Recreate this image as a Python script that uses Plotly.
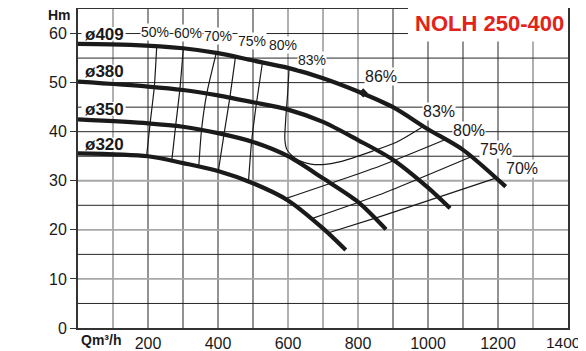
import plotly.graph_objects as go

# ---- head curves (Q m3/h, H m) ----
q409 = [0, 150, 300, 400, 500, 600, 700, 800, 900, 1000, 1100, 1222]
h409 = [57.9, 57.7, 57.0, 56.0, 54.5, 53.0, 50.9, 48.2, 45.0, 40.5, 36.3, 28.8]
q380 = [0, 200, 300, 400, 500, 600, 700, 800, 900, 1000, 1063]
h380 = [50.2, 49.2, 48.5, 47.4, 46.0, 44.5, 42.0, 38.3, 34.3, 28.6, 24.4]
q350 = [0, 200, 300, 400, 500, 600, 700, 800, 880]
h350 = [42.5, 41.7, 41.0, 39.7, 37.9, 35.0, 30.5, 25.7, 20.1]
q320 = [0, 200, 300, 400, 500, 600, 700, 765]
h320 = [35.6, 35.0, 33.6, 32.0, 29.5, 26.0, 20.3, 15.9]
diam_labels = ["ø409", "ø380", "ø350", "ø320"]
diam_label_h = [59.9, 52.2, 44.6, 37.3]

# ---- efficiency iso-lines ----
e50_q = [225, 218, 206, 196]; e50_h = [57.4, 49.1, 41.7, 35.0]
e60_q = [301, 291, 279, 268]; e60_h = [57.0, 48.6, 41.2, 34.1]
e70_q = [395, 368, 353, 345]; e70_h = [56.0, 47.8, 40.4, 32.9]
e75_q = [450, 434, 417, 401]; e75_h = [55.3, 47.0, 39.4, 32.0]
e80_q = [527, 510, 496, 487]; e80_h = [54.1, 45.9, 38.0, 29.8]
e83_q = [603, 599, 593, 591, 596, 610, 632, 665, 700, 750, 840, 911, 985]
e83_h = [52.9, 47.8, 42.0, 38.5, 36.5, 35.2, 34.1, 33.4, 33.3, 33.9, 36.0, 37.9, 41.0]
e80r_q = [591, 863, 1050]; e80r_h = [26.3, 33.0, 38.4]
e75r_q = [668, 863, 1120]; e75r_h = [22.3, 27.2, 34.8]
e70r_q = [716, 863, 1196]; e70r_h = [19.4, 22.7, 30.6]
bep_q = [815]; bep_h = [47.9]

top_labels = ["50%", "60%", "70%", "75%", "80%", "83%"]
top_q = [220, 315, 401, 496, 587, 668]
top_h = [60.4, 60.1, 59.4, 58.4, 57.7, 54.6]
right_labels = ["86%", "83%", "80%", "75%", "70%"]
right_q = [867, 1032, 1118, 1193, 1269]
right_h = [51.3, 44.1, 40.3, 36.3, 32.5]

x_ticks = [200, 400, 600, 800, 1000, 1200]
x_last_tick = 1400
y_ticks = [0, 10, 20, 30, 40, 50, 60]
grid_x = list(range(100, 1400, 100))
grid_y = list(range(5, 65, 5))
grey_x = {100, 600, 700, 800, 1300}
grey_y = {10, 20, 30}

FONT = "Liberation Sans, Arial, Helvetica, sans-serif"
INK = "#1a1a1a"

fig = go.Figure()

thin = dict(color=INK, width=1.2)
for qq, hh in [(e50_q, e50_h), (e60_q, e60_h), (e70_q, e70_h), (e75_q, e75_h), (e80_q, e80_h),
               (e80r_q, e80r_h), (e75r_q, e75r_h), (e70r_q, e70r_h)]:
    fig.add_trace(go.Scatter(x=qq, y=hh, mode="lines", line=dict(shape="spline", smoothing=0.6, **thin),
                             hoverinfo="skip"))
fig.add_trace(go.Scatter(x=e83_q, y=e83_h, mode="lines", line=dict(shape="spline", smoothing=0.8, **thin),
                         hoverinfo="skip"))

for qq, hh in [(q409, h409), (q380, h380), (q350, h350), (q320, h320)]:
    fig.add_trace(go.Scatter(x=qq, y=hh, mode="lines",
                             line=dict(color=INK, width=4.2, shape="spline", smoothing=0.8),
                             hoverinfo="skip"))
fig.add_trace(go.Scatter(x=bep_q, y=bep_h, mode="markers",
                         marker=dict(symbol="diamond", size=7, color=INK), hoverinfo="skip"))

shapes = []
for gx in grid_x:
    g = gx in grey_x
    shapes.append(dict(type="line", xref="x", yref="y", x0=gx, x1=gx, y0=0, y1=65, layer="below",
                       line=dict(color="#a8a8a8" if g else "#262626", width=1.8 if g else 1)))
for gy in grid_y:
    g = gy in grey_y
    shapes.append(dict(type="line", xref="x", yref="y", x0=0, x1=1400, y0=gy, y1=gy, layer="below",
                       line=dict(color="#a8a8a8" if g else "#262626", width=1.8 if g else 1)))
# white patches behind the diameter labels (between gridlines and curves)
for hh in diam_label_h:
    shapes.append(dict(type="rect", xref="x", yref="y", x0=10, x1=136, y0=hh - 1.35, y1=hh + 1.45,
                       fillcolor="white", line=dict(width=0), layer="between"))
# white box behind title
shapes.append(dict(type="rect", xref="x", yref="paper", x0=943, x1=1400, y0=(58.4 / 65), y1=1.01,
                   fillcolor="white", line=dict(width=0), layer="above"))

annotations = []
for lab, hh in zip(diam_labels, diam_label_h):
    annotations.append(dict(x=14, y=hh, xref="x", yref="y", text="<b>%s</b>" % lab, showarrow=False,
                            xanchor="left", yanchor="middle",
                            font=dict(family=FONT, size=17, color=INK)))
for lab, qq, hh in zip(top_labels, top_q, top_h):
    annotations.append(dict(x=qq, y=hh, xref="x", yref="y", text=lab, showarrow=False,
                            xanchor="center", yanchor="middle", bgcolor="white", borderpad=0,
                            font=dict(family=FONT, size=14, color=INK)))
for lab, qq, hh in zip(right_labels, right_q, right_h):
    annotations.append(dict(x=qq, y=hh, xref="x", yref="y", text=lab, showarrow=False,
                            xanchor="center", yanchor="middle", bgcolor="white", borderpad=0,
                            font=dict(family=FONT, size=16, color=INK)))
annotations.append(dict(x=x_last_tick, y=-0.037, xref="x", yref="paper", text=str(x_last_tick),
                        showarrow=False, xanchor="center", yanchor="middle", xshift=-5, yshift=-3,
                        font=dict(family=FONT, size=15.5, color=INK)))
annotations.append(dict(x=0.839, y=0.954, xref="paper", yref="paper", text="<b>NOLH 250-400</b>",
                        showarrow=False, xanchor="center", yanchor="middle",
                        font=dict(family=FONT, size=22, color="#e2231a")))
annotations.append(dict(x=-0.037, y=0.981, xref="paper", yref="paper", text="<b>Hm</b>",
                        showarrow=False, xanchor="center", yanchor="middle",
                        font=dict(family=FONT, size=14, color=INK)))
annotations.append(dict(x=0.047, y=-0.039, xref="paper", yref="paper", text="<b>Qm³/h</b>",
                        showarrow=False, xanchor="center", yanchor="middle",
                        font=dict(family=FONT, size=14, color=INK)))

# the page adds an 8px body margin, so the figure is sized to fit inside the 586x351 window
fig.update_layout(
    width=578, height=343, margin=dict(l=70, r=18, t=1.3, b=23.3),
    plot_bgcolor="white", paper_bgcolor="white", showlegend=False,
    shapes=shapes, annotations=annotations,
    xaxis=dict(range=[0, 1400], tickvals=x_ticks, showgrid=False, zeroline=False, automargin=False,
               showline=True, linewidth=2, linecolor="#333", mirror=True, ticks="",
               tickfont=dict(family=FONT, size=16, color=INK)),
    yaxis=dict(range=[0, 65], tickvals=y_ticks, showgrid=False, zeroline=False, automargin=False,
               showline=True, linewidth=2, linecolor="#333", mirror=True,
               ticks="outside", ticklen=6, tickcolor="#333", tickwidth=1,
               tickfont=dict(family=FONT, size=16, color=INK)),
)

fig.write_html("out.html")
